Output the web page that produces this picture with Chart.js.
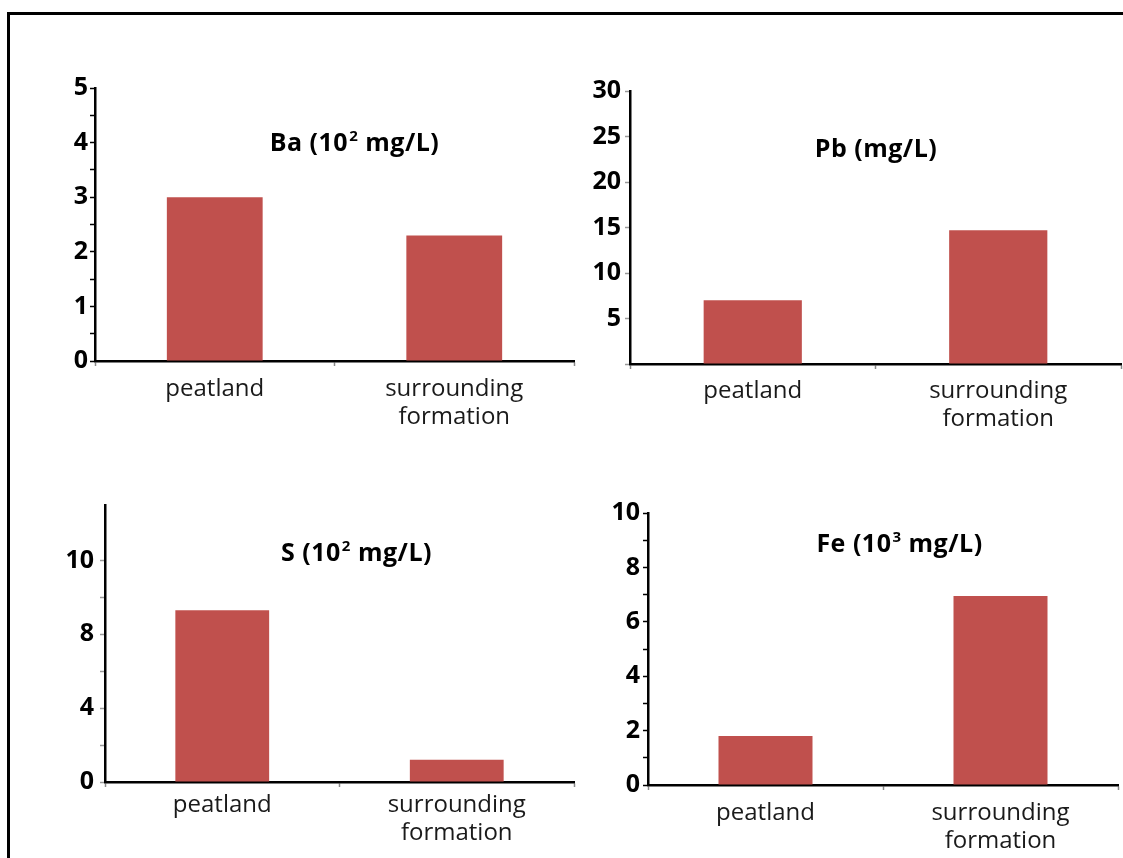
<!DOCTYPE html>
<html><head><meta charset="utf-8">
<script src="https://cdn.jsdelivr.net/npm/chart.js@4"></script>
<style>
html,body{margin:0;padding:0;background:#fff;width:1123px;height:858px;overflow:hidden;position:relative}
#frame{position:absolute;left:7px;top:12px;width:1300px;height:1000px;border:3px solid #000;box-sizing:border-box}
canvas{position:absolute}
</style></head><body>
<div id="frame"></div>
<canvas id="ba"></canvas>
<canvas id="pb"></canvas>
<canvas id="s"></canvas>
<canvas id="fe"></canvas>
<script>
// ---- data ----
const categories = ["peatland", ["surrounding", "formation"]];
const baValues = [3.0, 2.3];
const pbValues = [7.0, 14.7];
const sValues = [9.3, 1.2];
const feValues = [1.8, 6.95];
const baTickLabels = [0, 1, 2, 3, 4, 5];
const pbTickLabels = [5, 10, 15, 20, 25, 30];
const sTickValues = [0, 4, 8, 12];
const sTickLabels = ["0", "4", "8", "10"];
const feTickLabels = [0, 2, 4, 6, 8, 10];
const baTitle = ["Ba (10", "2", " mg/L)"];
const pbTitle = ["Pb (mg/L)", "", ""];
const sTitle = ["S (10", "2", " mg/L)"];
const feTitle = ["Fe (10", "3", " mg/L)"];

const BAR = '#C0504D';

const titlePlugin = {
  id: 'panelTitle',
  afterDraw(chart, args, opts) {
    const {ctx, chartArea} = chart;
    const parts = opts.parts;
    const size = 25, supSize = 15;
    ctx.save();
    ctx.letterSpacing = '0.5px';
    ctx.fillStyle = '#000';
    ctx.textBaseline = 'alphabetic';
    ctx.textAlign = 'left';
    const fMain = `bold ${size}px "Open Sans"`, fSup = `bold ${supSize}px "Open Sans"`;
    ctx.font = fMain; const w0 = ctx.measureText(parts[0]).width;
    const w2 = ctx.measureText(parts[2]).width;
    ctx.font = fSup; const w1 = ctx.measureText(parts[1]).width;
    const total = w0 + w1 + w2;
    let x = chartArea.left + opts.dx - total / 2;
    const base = chartArea.top + opts.dy + 0.357 * size;
    ctx.font = fMain; ctx.fillText(parts[0], x, base); x += w0;
    ctx.font = fSup; ctx.fillText(parts[1], x + 1, base - 0.714 * size + 0.714 * supSize - 3); x += w1 + 1;
    ctx.font = fMain; ctx.fillText(parts[2], x, base);
    ctx.restore();
  }
};

function panel(id, area, cfg) {
  const Wy = 56, Hx = 80, padT = 18, padR = 10;
  const cv = document.getElementById(id);
  const left = area.left - Wy, top = area.top - padT;
  const w = area.right + padR - left, h = area.bottom + Hx - top;
  cv.style.left = left + 'px'; cv.style.top = top + 'px';
  cv.width = w; cv.height = h;
  cv.style.width = w + 'px'; cv.style.height = h + 'px';
  new Chart(cv, {
    type: 'bar',
    data: {
      labels: categories,
      datasets: [{ data: cfg.values, backgroundColor: BAR, borderWidth: 0,
                   categoryPercentage: 1.0, barPercentage: 0.4 }]
    },
    plugins: [titlePlugin],
    options: {
      responsive: false, animation: false, devicePixelRatio: 1,
      layout: { padding: { top: padT, right: padR, left: 0, bottom: 0 } },
      plugins: {
        legend: { display: false }, tooltip: { enabled: false },
        panelTitle: { parts: cfg.title, dx: cfg.tdx, dy: cfg.tdy }
      },
      scales: {
        x: {
          afterFit: s => { s.height = Hx; },
          ticks: { font: { family: 'Open Sans', size: 24, lineHeight: 1.17 }, color: '#1a1a1a',
                   padding: cfg.xPad, maxRotation: 0, autoSkip: false },
          grid: { drawOnChartArea: false, drawTicks: true, tickLength: 5, tickColor: '#888', tickWidth: 1.5, offset: true },
          border: { color: '#000', width: 2.5 }
        },
        y: {
          min: 0, max: cfg.max,
          afterFit: s => { s.width = Wy; },
          afterBuildTicks: s => {
            s.ticks = s.ticks.filter(t => Math.abs(t.value / cfg.step - Math.round(t.value / cfg.step)) < 1e-6);
          },
          ticks: { stepSize: cfg.step, autoSkip: false, callback: cfg.label, padding: cfg.yPad,
                   font: { family: 'Open Sans', size: 25, weight: 'bold' }, color: '#000' },
          grid: { drawOnChartArea: false, drawTicks: true, tickLength: 5, tickColor: cfg.tickColor, tickWidth: 1.5 },
          border: { color: '#000', width: 2.5 }
        }
      }
    }
  });
}

panel('ba', { left: 95, right: 574, top: 88, bottom: 361 }, {
  values: baValues, max: 5, step: 0.5, tickColor: '#000', xPad: 9, yPad: 2,
  label: v => baTickLabels.includes(v) ? String(v) : '',
  title: baTitle, tdx: 259, tdy: 54.5
});
panel('pb', { left: 630, right: 1121, top: 90, bottom: 364 }, {
  values: pbValues, max: 30, step: 5, tickColor: '#999', xPad: 8, yPad: 4,
  label: v => pbTickLabels.includes(v) ? String(v) : '',
  title: pbTitle, tdx: 246, tdy: 57
});
panel('s', { left: 105, right: 574, top: 502, bottom: 782 }, {
  values: sValues, max: 15, step: 2, tickColor: '#999', xPad: 4, yPad: 6,
  label: v => { const i = sTickValues.indexOf(v); return i >= 0 ? sTickLabels[i] : ''; },
  title: sTitle, tdx: 251, tdy: 47
});
panel('fe', { left: 648, right: 1118, top: 513, bottom: 785 }, {
  values: feValues, max: 10, step: 1, tickColor: '#000', xPad: 9, yPad: 3,
  label: v => feTickLabels.includes(v) ? String(v) : '',
  title: feTitle, tdx: 251, tdy: 30
});
</script>
</body></html>
